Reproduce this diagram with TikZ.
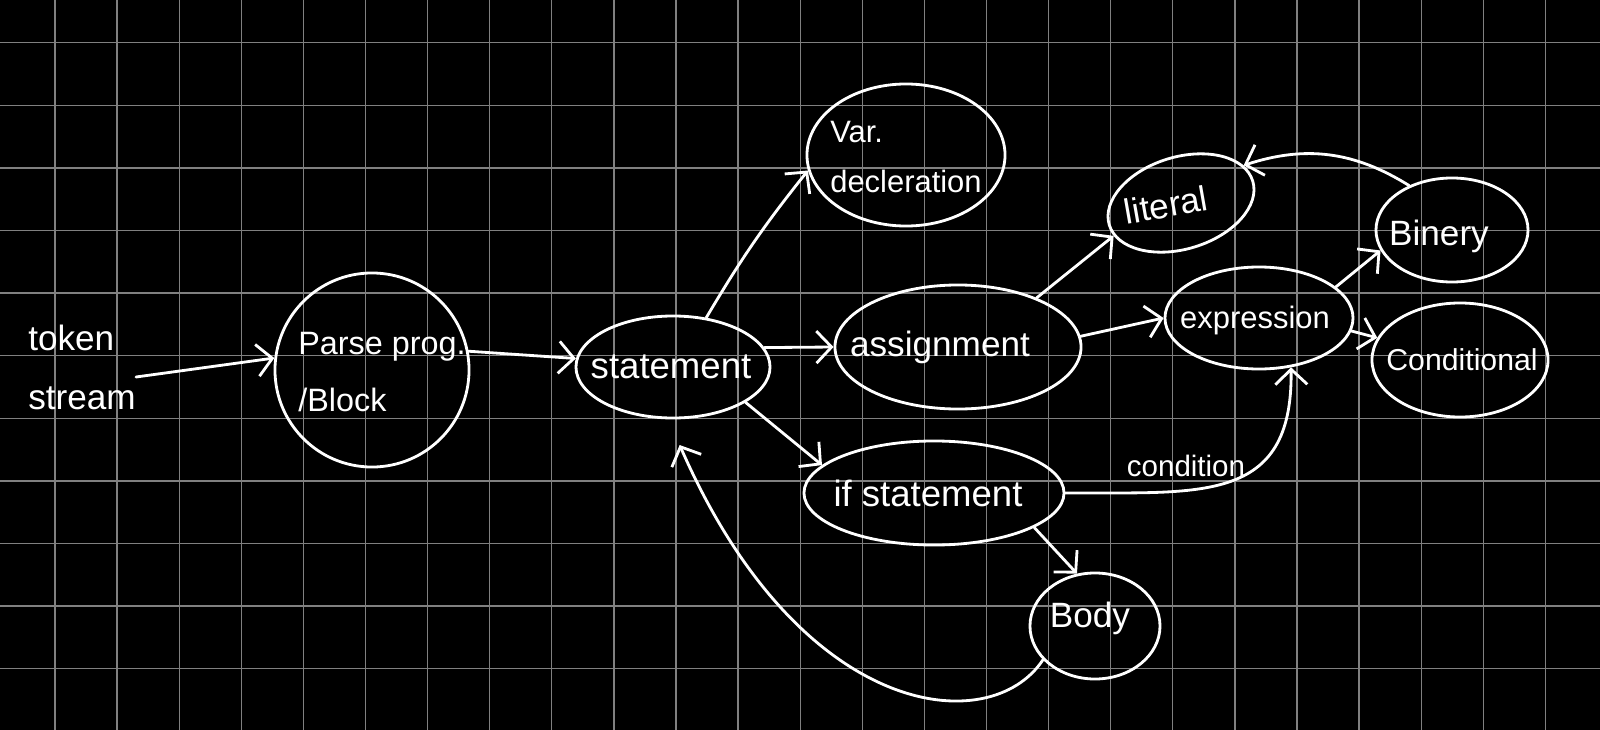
\documentclass[tikz,border=0pt]{standalone}
\usepackage{fontspec}
\setmainfont{Liberation Sans}
\usetikzlibrary{shapes.geometric,arrows.meta}
\definecolor{gridc}{gray}{0.5}
\begin{document}
\begin{tikzpicture}[x=0.025cm,y=-0.025cm,
  every node/.style={text=white, font=\fontsize{24}{36}\selectfont},
  ell/.style={draw=white, line width=2pt, ellipse, inner sep=0pt},
  arr/.style={draw=white, line width=2pt, line cap=round, line join=round,
    -{Straight Barb[length=0.38cm,width=0.8cm]}},
  txt/.style={align=left, inner sep=0pt}]
\fill[black] (0,0) rectangle (1600,730);
\useasboundingbox (0,0) rectangle (1600,730);
\foreach \i in {0,...,24} \draw[gridc, line width=0.9pt] ({55+62.1*\i},0) -- ({55+62.1*\i},730);
\foreach \j in {0,...,10} \draw[gridc, line width=0.9pt] (0,{42.7+62.6*\j}) -- (1600,{42.7+62.6*\j});

% shapes
\node[ell, minimum width=4.85cm, minimum height=4.85cm] (parse) at (372,370) {};
\node[ell, minimum width=4.85cm, minimum height=2.55cm] (stmt) at (673,367) {};
\node[ell, minimum width=4.95cm, minimum height=3.55cm] (var) at (906,155) {};
\node[ell, minimum width=6.15cm, minimum height=3.1cm] (assign) at (958,347) {};
\node[ell, minimum width=6.5cm, minimum height=2.6cm] (ifs) at (934,493) {};
\node[ell, minimum width=3.25cm, minimum height=2.65cm] (body) at (1095,626) {};
\node[ell, minimum width=4.7cm, minimum height=2.55cm] (expr) at (1259,318) {};
\node[ell, rotate=17, minimum width=3.75cm, minimum height=2.3cm] (lit) at (1181,203) {};
\node[ell, minimum width=3.8cm, minimum height=2.6cm] (bin) at (1452,230) {};
\node[ell, minimum width=4.4cm, minimum height=2.85cm] (cond) at (1460,360) {};

% texts
\node[txt, font=\fontsize{25}{44}\selectfont] (tok) at (82,367) {token\\[-2pt]stream};
\node[txt, font=\fontsize{23}{40}\selectfont] (parse-t) at (382,372) {Parse prog.\\/Block};
\node[txt, font=\fontsize{26}{36}\selectfont] (stmt-t) at (671,367) {statement};
\node[txt, font=\fontsize{22}{36}\selectfont] (var-t) at (906,157) {Var.\\decleration};
\node[txt, font=\fontsize{25}{36}\selectfont] (assign-t) at (940,347) {assignment};
\node[txt, font=\fontsize{26}{36}\selectfont] (ifs-t) at (928,493) {if statement};
\node[txt, font=\fontsize{25}{36}\selectfont] (body-t) at (1090,618) {Body};
\node[txt, font=\fontsize{22}{36}\selectfont] (expr-t) at (1255,320) {expression};
\node[txt, rotate=10, font=\fontsize{25}{36}\selectfont] (lit-t) at (1166,205) {literal};
\node[txt, font=\fontsize{25}{36}\selectfont] (bin-t) at (1439,236) {Binery};
\node[txt, font=\fontsize{21.5}{36}\selectfont] (cond-t) at (1462,360) {Conditional};
\node[txt, font=\fontsize{21}{30}\selectfont] (condlbl) at (1186,466) {condition};

% connectors
\draw[arr] ([yshift=-0.25cm]tok.east) -- (parse.173);
\draw[arr] (parse.11) -- (stmt.175);
\draw[arr] (stmt.56) to[bend left=4] (var.189);
\draw[arr] (stmt.12) -- (assign.west);
\draw[arr] (stmt.334) -- (ifs.166);
\draw[arr] (ifs.-19) -- (body.109);
\draw[arr, shorten >=0.7cm] (body.213) .. controls (990,740) and (800,720) .. (stmt.265);
\draw[arr] (ifs.east) .. controls (1200,492) and (1293,505) .. (expr.-57);
\draw[arr] (assign.32) -- (lit.189);
\draw[arr] (assign.5) -- (expr.west);
\draw[arr] (expr.22) -- (bin.196);
\draw[arr] (expr.-8) -- (cond.165);
\draw[arr] (bin.134) to[bend right=25] (lit.14);
\end{tikzpicture}
\end{document}
